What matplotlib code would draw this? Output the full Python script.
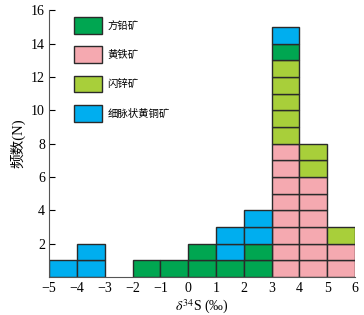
import numpy as np
import matplotlib
matplotlib.use("Agg")
import matplotlib.pyplot as plt
from matplotlib.patches import Patch

plt.rcParams['font.family'] = ['Liberation Serif', 'Noto Sans CJK SC', 'DejaVu Sans']
plt.rcParams['mathtext.fontset'] = 'stix'

# bin left edges (delta34S, permil)
bins = [-5, -4, -3, -2, -1, 0, 1, 2, 3, 4, 5]

# counts per mineral per bin
galena = [0, 0, 0, 1, 1, 2, 1, 2, 1, 0, 0]        # 方铅矿
pyrite = [0, 0, 0, 0, 0, 0, 0, 0, 8, 6, 2]        # 黄铁矿
sphalerite = [0, 0, 0, 0, 0, 0, 0, 0, 5, 2, 1]    # 闪锌矿
chalcopyrite = [1, 2, 0, 0, 0, 0, 2, 2, 1, 0, 0]  # 细脉状黄铜矿

names = ['方铅矿', '黄铁矿', '闪锌矿', '细脉状黄铜矿']
colors = {'方铅矿': '#00a651', '黄铁矿': '#f5a9b0', '闪锌矿': '#a8cf3a', '细脉状黄铜矿': '#00aeef'}

# stacking order, bottom to top
stack = [('黄铁矿', pyrite), ('闪锌矿', sphalerite), ('方铅矿', galena), ('细脉状黄铜矿', chalcopyrite)]

fig = plt.figure(figsize=(3.64, 3.15), dpi=100)
ax = fig.add_axes([0.135, 0.121, 0.84, 0.846])

bottom = np.zeros(len(bins))
for name, counts in stack:
    for i, x in enumerate(bins):
        for k in range(counts[i]):
            ax.bar(x, 1, width=1, bottom=bottom[i] + k, align='edge',
                   color=colors[name], edgecolor='#2a2a2a', linewidth=1.0)
    bottom += np.array(counts)

ax.set_xlim(-5, 6)
ax.set_ylim(0, 16)
ax.set_xticks(range(-5, 7))
ax.set_xticklabels([str(v).replace('-', '\u2212') for v in range(-5, 7)])
ax.set_yticks(range(2, 17, 2))
ax.tick_params(axis='x', length=0, labelsize=10, pad=4)
ax.tick_params(axis='y', direction='in', length=4, labelsize=10, pad=3)
for s in ['top', 'right']:
    ax.spines[s].set_visible(False)
for s in ['left', 'bottom']:
    ax.spines[s].set_color('#555555')

ax.set_xlabel(r'$\delta^{34}$S (‰)', fontsize=10, labelpad=2)
ax.set_ylabel('频数(N)', fontsize=10.5, labelpad=4)

handles = [Patch(facecolor=colors[n], edgecolor='#2a2a2a', linewidth=1.0) for n in names]
ax.legend(handles, names, loc='upper left', bbox_to_anchor=(0.082, 0.975),
          frameon=False, fontsize=7.5, handlelength=2.7, handleheight=2.1,
          labelspacing=1.2, handletextpad=0.5, borderpad=0, borderaxespad=0)

fig.savefig('out.png', dpi=100)
